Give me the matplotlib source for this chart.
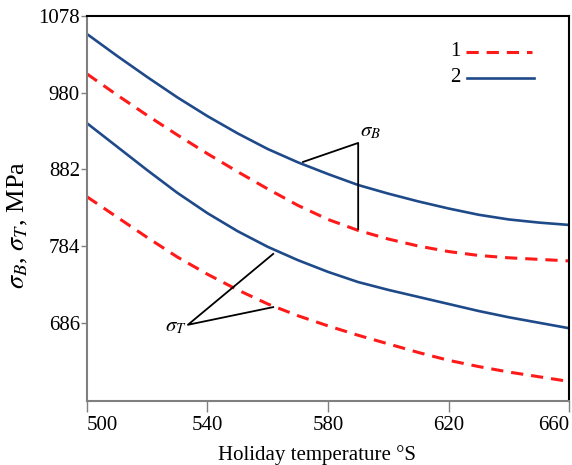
import matplotlib
matplotlib.use("Agg")
import matplotlib.pyplot as plt

plt.rcParams['font.family'] = ['Liberation Serif', 'DejaVu Serif']
plt.rcParams['mathtext.fontset'] = 'stix'

temp = [500, 510, 520, 530, 540, 550, 560, 570, 580, 590, 600, 610, 620, 630, 640, 650, 660]
# curve 1 (dashed red) and curve 2 (solid blue)
sigma_b_1 = [1004, 977, 951, 926, 902, 879, 857, 836, 818, 804, 793, 784, 777, 772, 769, 767, 765]
sigma_b_2 = [1055, 1027, 1000, 974, 950, 928, 908, 891, 876, 862, 851, 841, 832, 824, 818, 814, 811]
sigma_t_1 = [847, 821, 795, 770, 748, 728, 710, 695, 682, 670, 659, 648, 638, 630, 623, 617, 611]
sigma_t_2 = [941, 911, 881, 852, 826, 803, 783, 766, 751, 738, 728, 719, 710, 701, 693, 686, 679]

xticks = [500, 540, 580, 620, 660]
yticks = [686, 784, 882, 980, 1078]

red = '#ff1a1a'
blue = '#1f4a8a'
dash = (0, (4, 2.6))

fig = plt.figure(figsize=(5.72, 4.65), dpi=100)
ax = fig.add_axes([0.152, 0.1376, 0.843, 0.828])

ax.plot(temp, sigma_b_1, color=red, lw=2.2, ls=dash)
ax.plot(temp, sigma_t_1, color=red, lw=2.2, ls=dash)
ax.plot(temp, sigma_b_2, color=blue, lw=1.9)
ax.plot(temp, sigma_t_2, color=blue, lw=1.9)

# leader lines for sigma_B
ax.plot([571.7, 590, 590], [891.5, 915.8, 806], color='black', lw=1.3)
ax.text(590.5, 918, r'$\sigma_B$', fontsize=15, ha='left', va='bottom')
# leader lines for sigma_T
ax.plot([561.8, 533.5, 561.8], [774, 683.4, 706], color='black', lw=1.3)
ax.text(533, 681, r'$\sigma_T$', fontsize=15, ha='right', va='center')

# hand-made legend
ax.plot([625.8, 647.7], [1032, 1032], color=red, lw=2.2, ls=dash)
ax.plot([626, 648.5], [999, 999], color=blue, lw=1.9)
ax.text(624, 1032, '1', fontsize=15, ha='right', va='center')
ax.text(624, 999, '2', fontsize=15, ha='right', va='center')

ax.set_xlim(500, 660)
ax.set_ylim(586, 1078)
ax.set_xticks(xticks)
ax.set_yticks(yticks)
ax.tick_params(axis='x', direction='out', length=8, width=1, color='gray', labelsize=15, pad=3)
ax.tick_params(axis='y', direction='out', length=4, width=1, color='gray', labelsize=15, pad=1)
xl = ax.get_xticklabels()
xl[0].set_ha('left')
xl[-1].set_ha('right')

for s in ['left', 'bottom']:
    ax.spines[s].set_color('gray')
    ax.spines[s].set_linewidth(1.5)
for s in ['top', 'right']:
    ax.spines[s].set_color('black')
    ax.spines[s].set_linewidth(1.5)

ax.set_xlabel('Holiday temperature °S', fontsize=15)
ax.xaxis.set_label_coords(0.477, -0.115)
ax.set_ylabel(r'$\sigma_B$, $\sigma_T$, MPa', fontsize=19)
ax.yaxis.set_label_coords(-0.118, 0.457)

fig.savefig('out.png', dpi=100)
